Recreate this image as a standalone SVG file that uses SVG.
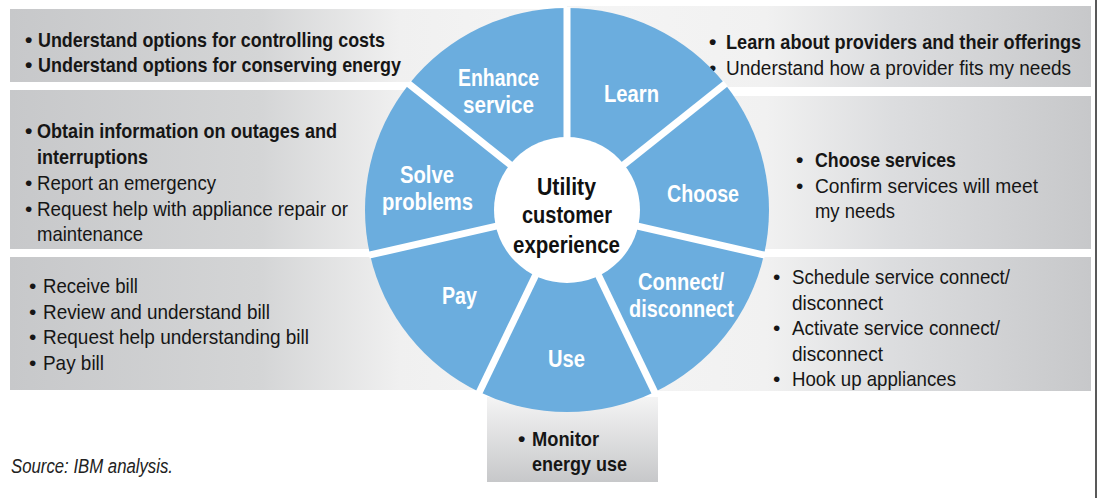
<svg xmlns="http://www.w3.org/2000/svg" width="1099" height="498" viewBox="0 0 1099 498">
  <defs>
    <linearGradient id="gradLeft" gradientUnits="userSpaceOnUse" x1="10" y1="0" x2="567" y2="0">
      <stop offset="0" stop-color="#c7c8ca"/>
      <stop offset="0.45" stop-color="#d4d5d6"/>
      <stop offset="0.7" stop-color="#f0f0f0"/>
      <stop offset="1" stop-color="#f5f5f5"/>
    </linearGradient>
    <linearGradient id="gradRight" gradientUnits="userSpaceOnUse" x1="567" y1="0" x2="1091" y2="0">
      <stop offset="0" stop-color="#f5f5f5"/>
      <stop offset="0.38" stop-color="#f1f1f1"/>
      <stop offset="0.62" stop-color="#dcdddf"/>
      <stop offset="1" stop-color="#c7c8ca"/>
    </linearGradient>
    <linearGradient id="gradBottom" gradientUnits="userSpaceOnUse" x1="0" y1="397" x2="0" y2="482">
      <stop offset="0" stop-color="#f4f4f4"/>
      <stop offset="1" stop-color="#c7c8ca"/>
    </linearGradient>
  </defs>
  <style>
    .bar-l { fill: url(#gradLeft); }
    .bar-r { fill: url(#gradRight); }
    .bar-b { fill: url(#gradBottom); }
    text { font-family: "Liberation Sans", Arial, sans-serif; }
    .t { font-size: 21px; fill: #161616; }
    .b { font-weight: bold; }
    .wedge { fill: #6badde; }
    .wl { font-size: 24px; font-weight: bold; fill: #ffffff; }
    .hub { fill: #ffffff; }
    .hl { font-size: 23px; font-weight: bold; fill: #111111; }
    .div { stroke: #ffffff; stroke-width: 7; stroke-linecap: butt; }
    .src { font-size: 20px; font-style: italic; fill: #222222; }
    .edge { stroke: #222222; stroke-width: 1.5; }
  </style>

  <!-- description panels behind the wheel -->
  <g id="panels">
    <g id="enhance-panel">
      <rect class="bar-l" x="10" y="9" width="557" height="73"/>
      <text class="t b" x="25" y="47">•</text>
      <text class="t b" x="38" y="47" textLength="347" lengthAdjust="spacingAndGlyphs">Understand options for controlling costs</text>
      <text class="t b" x="25" y="72">•</text>
      <text class="t b" x="38" y="72" textLength="363" lengthAdjust="spacingAndGlyphs">Understand options for conserving energy</text>
    </g>
    <g id="solve-panel">
      <rect class="bar-l" x="10" y="90" width="557" height="159"/>
      <text class="t b" x="25" y="138">•</text>
      <text class="t b" x="37" y="138" textLength="300" lengthAdjust="spacingAndGlyphs">Obtain information on outages and</text>
      <text class="t b" x="37" y="164" textLength="111" lengthAdjust="spacingAndGlyphs">interruptions</text>
      <text class="t" x="25" y="190">•</text>
      <text class="t" x="37" y="190" textLength="179" lengthAdjust="spacingAndGlyphs">Report an emergency</text>
      <text class="t" x="25" y="216">•</text>
      <text class="t" x="37" y="216" textLength="311" lengthAdjust="spacingAndGlyphs">Request help with appliance repair or</text>
      <text class="t" x="37" y="241" textLength="106" lengthAdjust="spacingAndGlyphs">maintenance</text>
    </g>
    <g id="pay-panel">
      <rect class="bar-l" x="10" y="257" width="557" height="133"/>
      <text class="t" x="29" y="293">•</text>
      <text class="t" x="43" y="293" textLength="95" lengthAdjust="spacingAndGlyphs">Receive bill</text>
      <text class="t" x="29" y="319">•</text>
      <text class="t" x="43" y="319" textLength="227" lengthAdjust="spacingAndGlyphs">Review and understand bill</text>
      <text class="t" x="29" y="344">•</text>
      <text class="t" x="43" y="344" textLength="266" lengthAdjust="spacingAndGlyphs">Request help understanding bill</text>
      <text class="t" x="29" y="370">•</text>
      <text class="t" x="43" y="370" textLength="61" lengthAdjust="spacingAndGlyphs">Pay bill</text>
    </g>
    <g id="learn-panel">
      <rect class="bar-r" x="567" y="6" width="524" height="81"/>
      <text class="t b" x="709" y="49">•</text>
      <!-- long lines near the right edge are narrowed with a horizontal scale -->
      <text class="t b" transform="translate(726,49) scale(0.866,1)" x="0" y="0" textLength="410" lengthAdjust="spacingAndGlyphs">Learn about providers and their offerings</text>
      <text class="t" x="709" y="75">•</text>
      <text class="t" transform="translate(726,75) scale(0.908,1)" x="0" y="0" textLength="380" lengthAdjust="spacingAndGlyphs">Understand how a provider fits my needs</text>
    </g>
    <g id="choose-panel">
      <rect class="bar-r" x="567" y="96" width="524" height="153"/>
      <text class="t b" x="796" y="167">•</text>
      <text class="t b" x="815" y="167" textLength="141" lengthAdjust="spacingAndGlyphs">Choose services</text>
      <text class="t" x="796" y="193">•</text>
      <text class="t" x="815" y="193" textLength="223" lengthAdjust="spacingAndGlyphs">Confirm services will meet</text>
      <text class="t" x="815" y="218" textLength="80" lengthAdjust="spacingAndGlyphs">my needs</text>
    </g>
    <g id="connect-panel">
      <rect class="bar-r" x="567" y="257" width="524" height="134"/>
      <text class="t" x="773" y="284">•</text>
      <text class="t" x="792" y="284" textLength="218" lengthAdjust="spacingAndGlyphs">Schedule service connect/</text>
      <text class="t" x="792" y="310" textLength="91" lengthAdjust="spacingAndGlyphs">disconnect</text>
      <text class="t" x="773" y="335">•</text>
      <text class="t" x="792" y="335" textLength="208" lengthAdjust="spacingAndGlyphs">Activate service connect/</text>
      <text class="t" x="792" y="361" textLength="91" lengthAdjust="spacingAndGlyphs">disconnect</text>
      <text class="t" x="773" y="386">•</text>
      <text class="t" x="792" y="386" textLength="164" lengthAdjust="spacingAndGlyphs">Hook up appliances</text>
    </g>
    <g id="use-panel">
      <rect class="bar-b" x="487" y="397" width="171" height="85"/>
      <text class="t b" x="518" y="446">•</text>
      <text class="t b" x="532" y="446" textLength="67" lengthAdjust="spacingAndGlyphs">Monitor</text>
      <text class="t b" x="532" y="471" textLength="95" lengthAdjust="spacingAndGlyphs">energy use</text>
    </g>
  </g>

  <!-- the seven-step wheel, centre (567,210), radius 202 -->
  <g id="wheel">
    <g id="learn">
      <path class="wedge" d="M567,210 L567,8 A202,202 0 0 1 724.93,84.06 Z"/>
      <text class="wl" x="604" y="102" textLength="55" lengthAdjust="spacingAndGlyphs">Learn</text>
    </g>
    <g id="choose">
      <path class="wedge" d="M567,210 L724.93,84.06 A202,202 0 0 1 763.94,254.95 Z"/>
      <text class="wl" x="667" y="202" textLength="72" lengthAdjust="spacingAndGlyphs">Choose</text>
    </g>
    <g id="connect">
      <path class="wedge" d="M567,210 L763.94,254.95 A202,202 0 0 1 654.64,391.99 Z"/>
      <text class="wl" x="638" y="290" textLength="86" lengthAdjust="spacingAndGlyphs">Connect/</text>
      <text class="wl" x="629" y="317" textLength="105" lengthAdjust="spacingAndGlyphs">disconnect</text>
    </g>
    <g id="use">
      <path class="wedge" d="M567,210 L654.64,391.99 A202,202 0 0 1 479.36,391.99 Z"/>
      <text class="wl" x="548" y="367" textLength="37" lengthAdjust="spacingAndGlyphs">Use</text>
    </g>
    <g id="pay">
      <path class="wedge" d="M567,210 L479.36,391.99 A202,202 0 0 1 370.06,254.95 Z"/>
      <text class="wl" x="442" y="304" textLength="35" lengthAdjust="spacingAndGlyphs">Pay</text>
    </g>
    <g id="solve">
      <path class="wedge" d="M567,210 L370.06,254.95 A202,202 0 0 1 409.07,84.06 Z"/>
      <text class="wl" x="400" y="183" textLength="54" lengthAdjust="spacingAndGlyphs">Solve</text>
      <text class="wl" x="382" y="210" textLength="91" lengthAdjust="spacingAndGlyphs">problems</text>
    </g>
    <g id="enhance">
      <path class="wedge" d="M567,210 L409.07,84.06 A202,202 0 0 1 567,8 Z"/>
      <text class="wl" x="458" y="86" textLength="81" lengthAdjust="spacingAndGlyphs">Enhance</text>
      <text class="wl" x="463" y="113" textLength="71" lengthAdjust="spacingAndGlyphs">service</text>
    </g>
  </g>

  <!-- white separators between the wedges -->
  <g id="connectors">
    <line class="div" x1="567" y1="210" x2="567" y2="7"/>
    <line class="div" x1="567" y1="210" x2="725.7" y2="83.4"/>
    <line class="div" x1="567" y1="210" x2="765" y2="255.2"/>
    <line class="div" x1="567" y1="210" x2="655.1" y2="392.9"/>
    <line class="div" x1="567" y1="210" x2="478.9" y2="392.9"/>
    <line class="div" x1="567" y1="210" x2="369" y2="255.2"/>
    <line class="div" x1="567" y1="210" x2="408.3" y2="83.4"/>
  </g>

  <g id="hub">
    <circle class="hub" cx="567" cy="210" r="73"/>
    <text class="hl" x="537" y="195" textLength="59" lengthAdjust="spacingAndGlyphs">Utility</text>
    <text class="hl" x="522" y="223" textLength="90" lengthAdjust="spacingAndGlyphs">customer</text>
    <text class="hl" x="513" y="253" textLength="107" lengthAdjust="spacingAndGlyphs">experience</text>
  </g>

  <text class="src" x="11" y="473" textLength="162" lengthAdjust="spacingAndGlyphs">Source: IBM analysis.</text>

  <line class="edge" x1="1096" y1="0" x2="1096" y2="498"/>
</svg>
